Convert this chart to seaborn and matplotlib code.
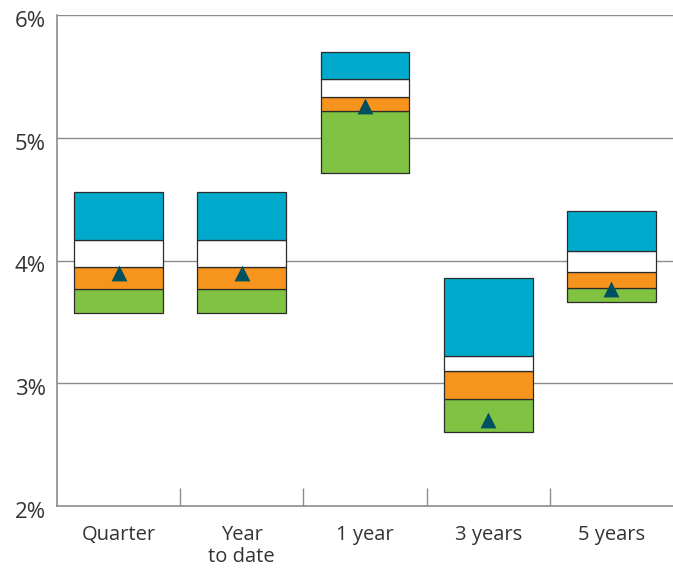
"""
Floating quartile bars with fund marker, recreated with seaborn.
"""

import pandas as pd
import matplotlib
matplotlib.use("Agg")
import matplotlib.pyplot as plt
import matplotlib.transforms as mtransforms
from matplotlib.ticker import FixedLocator, FuncFormatter
import seaborn as sns

#  Data (percent)
categories = ["Quarter", "Year\nto date", "1 year", "3 years", "5 years"]
low = [3.57, 3.57, 4.71, 2.60, 3.66]
q1 = [3.77, 3.77, 5.22, 2.87, 3.78]
median = [3.95, 3.95, 5.33, 3.10, 3.91]
q3 = [4.17, 4.17, 5.48, 3.22, 4.08]
high = [4.56, 4.56, 5.70, 3.86, 4.40]
fund = [3.90, 3.90, 5.26, 2.70, 3.77]

#  Band colours, bottom to top
band_colors = ["#80c242", "#f7941d", "#ffffff", "#00aacc"]
marker_color = "#00505f"
text_color = "#333333"
grid_color = "#8c8c8c"

sns.set_theme(style="white")
plt.rcParams['font.family'] = ['Open Sans', 'DejaVu Sans']

df = pd.DataFrame({'category': categories, 'low': low, 'q1': q1,
                   'median': median, 'q3': q3, 'high': high, 'fund': fund})

fig = plt.figure(figsize=(6.73, 5.71), dpi=100)
ax = fig.add_axes([57 / 673, 1 - 506 / 571, 1 - 57 / 673, (506 - 15) / 571])

#  Gridlines behind bars
for y in [3, 4, 5, 6]:
    ax.axhline(y, color=grid_color, lw=1.0, zorder=0)

#  Floating stacked bands
edges = ['low', 'q1', 'median', 'q3', 'high']
for i, color in enumerate(band_colors):
    seg = df[['category']].copy()
    seg['height'] = df[edges[i + 1]] - df[edges[i]]
    sns.barplot(data=seg, x='category', y='height', order=categories,
                bottom=df[edges[i]].values, color=color, saturation=1,
                width=0.72, edgecolor="#2b2b2b", linewidth=0.9,
                errorbar=None, ax=ax, zorder=2)

#  Fund markers
sns.scatterplot(data=df, x='category', y='fund', marker='^', s=130,
                color=marker_color, edgecolor=marker_color, linewidth=0,
                ax=ax, zorder=3)

ax.set_xlim(-0.5, 4.5)
ax.set_ylim(2, 6)
ax.set_xlabel('')
ax.set_ylabel('')

#  Y axis
ax.yaxis.set_major_locator(FixedLocator([2, 3, 4, 5, 6]))
ax.yaxis.set_major_formatter(FuncFormatter(lambda v, p: f"{v:.0f}%"))
ax.tick_params(axis='y', length=0, pad=8, labelsize=16, labelcolor=text_color)
shift = mtransforms.ScaledTranslation(0, -4 / 100, fig.dpi_scale_trans)
for lab in ax.get_yticklabels():
    lab.set_transform(lab.get_transform() + shift)

#  X axis: labels at centres, tick marks at boundaries
ax.xaxis.set_major_locator(FixedLocator(range(len(categories))))
ax.set_xticklabels(categories, linespacing=1.12)
ax.xaxis.set_minor_locator(FixedLocator([0.5, 1.5, 2.5, 3.5]))
ax.tick_params(axis='x', which='major', length=0, pad=14, labelsize=14.5,
               labelcolor=text_color)
ax.tick_params(axis='x', which='minor', length=13, width=1.0, direction='in',
               color=grid_color, bottom=True)

for side in ['top', 'right']:
    ax.spines[side].set_visible(False)
for side in ['left', 'bottom']:
    ax.spines[side].set_color(grid_color)
    ax.spines[side].set_linewidth(1.2)

plt.savefig('out.png', dpi=100)
